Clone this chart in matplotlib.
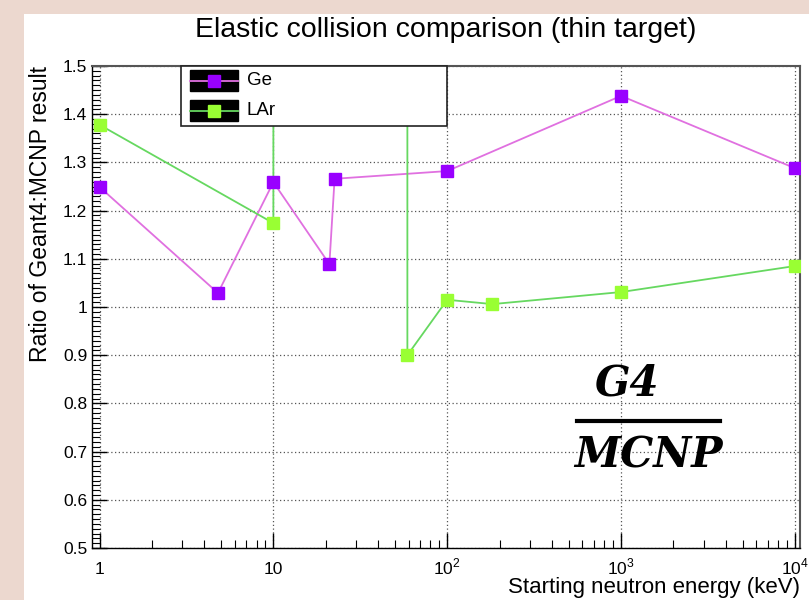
import numpy as np
import matplotlib
matplotlib.use("Agg")
import matplotlib.pyplot as plt
from matplotlib.patches import Rectangle
from matplotlib.lines import Line2D
from matplotlib.ticker import FixedLocator, MultipleLocator, NullFormatter

# data
ge_energy = [1, 4.8, 10, 21, 22.5, 100, 1000, 10000]
ge_ratio = [1.249, 1.029, 1.259, 1.089, 1.266, 1.282, 1.438, 1.288]

lar_energy = [1, 10, 10, 59, 59, 100, 182, 1000, 10000]
lar_ratio = [1.378, 1.174, 3.0, 3.0, 0.900, 1.015, 1.006, 1.031, 1.085]

x_ticks = [1, 10, 100, 1000, 10000]
x_ticklabels = ['1', '10', r'$10^{2}$', r'$10^{3}$', r'$10^{4}$']
y_ticks = [0.5, 0.6, 0.7, 0.8, 0.9, 1.0, 1.1, 1.2, 1.3, 1.4, 1.5]
y_ticklabels = ['0.5', '0.6', '0.7', '0.8', '0.9', '1', '1.1', '1.2', '1.3', '1.4', '1.5']

plt.rcParams['font.family'] = ['Liberation Sans', 'DejaVu Sans']
plt.rcParams['mathtext.fontset'] = 'custom'
plt.rcParams['mathtext.rm'] = 'Liberation Sans'

ge_mark = '#9900ff'
ge_line = '#e070e0'
lar_mark = '#99ff33'
lar_line = '#66d860'

fig = plt.figure(figsize=(8.09, 6.0), dpi=100)
fig.patch.set_facecolor('#ecd8cf')
# white canvas of the original screenshot
fig.add_artist(Rectangle((24 / 809, 0), 1, (600 - 14) / 600, transform=fig.transFigure,
                         facecolor='white', edgecolor='none', zorder=0))

ax = fig.add_axes([92 / 809, 52 / 600, 708 / 809, 482 / 600])
ax.set_facecolor('white')

ax.plot(ge_energy, ge_ratio, color=ge_line, lw=1.3, zorder=3)
ax.plot(ge_energy, ge_ratio, ls='none', marker='s', ms=9, color=ge_mark, zorder=4)
ax.plot(lar_energy, lar_ratio, color=lar_line, lw=1.3, zorder=3)
ax.plot(lar_energy, lar_ratio, ls='none', marker='s', ms=9, color=lar_mark, zorder=4)

ax.set_xscale('log')
ax.set_xlim(0.905, 10700)
ax.set_ylim(0.5, 1.5)

ax.xaxis.set_major_locator(FixedLocator(x_ticks))
ax.set_xticklabels(x_ticklabels)
ax.xaxis.set_minor_locator(FixedLocator([m * 10 ** e for e in range(4) for m in range(2, 10)]))
ax.xaxis.set_minor_formatter(NullFormatter())
ax.yaxis.set_major_locator(FixedLocator(y_ticks))
ax.set_yticklabels(y_ticklabels)
ax.yaxis.set_minor_locator(MultipleLocator(0.01))

ax.tick_params(which='both', direction='in', top=False, right=False, labelsize=12.5, color='black')
ax.tick_params(which='major', length=11, width=1)
ax.tick_params(which='minor', length=6, width=0.8)
ax.tick_params(axis='x', which='major', pad=19)
for lab in ax.get_xticklabels():
    lab.set_verticalalignment('baseline')
ax.grid(True, which='major', ls=(0, (1, 2)), color='#555555', lw=0.9)

for s in ax.spines.values():
    s.set_linewidth(1.0)
    s.set_color('black')
for s in ['top', 'right']:
    ax.spines[s].set_color('#555555')
    ax.spines[s].set_linewidth(1.5)

ax.set_ylabel('Ratio of Geant4:MCNP result', fontsize=16.5, loc='top')
ax.yaxis.set_label_coords((52 - 92) / 708, 1.0)
ax.set_xlabel('Starting neutron energy (keV)', fontsize=16, loc='right', va='center')
ax.xaxis.set_label_coords(1.0, (548 - 587) / 482)

fig.text(446 / 809, 1 - 30 / 600, 'Elastic collision comparison (thin target)',
         ha='center', va='center', fontsize=20.5)

# legend box (ROOT style)
lx0, lx1 = (181 - 92) / 708, (447 - 92) / 708
ly0, ly1 = (548 - 126) / 482, 1.0
ax.add_patch(Rectangle((lx0, ly0), lx1 - lx0, ly1 - ly0, transform=ax.transAxes,
                       facecolor='white', edgecolor='#222222', lw=1.2, zorder=6, clip_on=False))
bx0, bx1 = (190 - 92) / 708, (238 - 92) / 708
for name, lc, mc, top, bot in [('Ge', ge_line, ge_mark, 70, 91), ('LAr', lar_line, lar_mark, 100, 121)]:
    y0 = (548 - bot) / 482
    y1 = (548 - top) / 482
    ax.add_patch(Rectangle((bx0, y0), bx1 - bx0, y1 - y0, transform=ax.transAxes,
                           facecolor='black', edgecolor='black', zorder=7, clip_on=False))
    ym = (y0 + y1) / 2
    ax.add_line(Line2D([bx0, bx1], [ym, ym], transform=ax.transAxes, color=lc, lw=1.3,
                       zorder=8, clip_on=False))
    ax.add_line(Line2D([(bx0 + bx1) / 2], [ym], transform=ax.transAxes, marker='s', ms=9,
                       color=mc, zorder=9, clip_on=False))
    ax.text((247 - 92) / 708, ym, name, transform=ax.transAxes, ha='left', va='center',
            fontsize=13.5, zorder=9)

# G4 / MCNP annotation
fig.text(627 / 809, 1 - 384 / 600, 'G4', ha='center', va='center', fontsize=30,
         family='DejaVu Serif', fontweight='bold', fontstyle='italic')
fig.add_artist(Line2D([577 / 809, 720 / 809], [1 - 421 / 600, 1 - 421 / 600],
                      transform=fig.transFigure, color='black', lw=3))
fig.text(648 / 809, 1 - 456 / 600, 'MCNP', ha='center', va='center', fontsize=30,
         family='DejaVu Serif', fontweight='bold', fontstyle='italic')

fig.savefig('out.png', dpi=100, facecolor=fig.get_facecolor())
